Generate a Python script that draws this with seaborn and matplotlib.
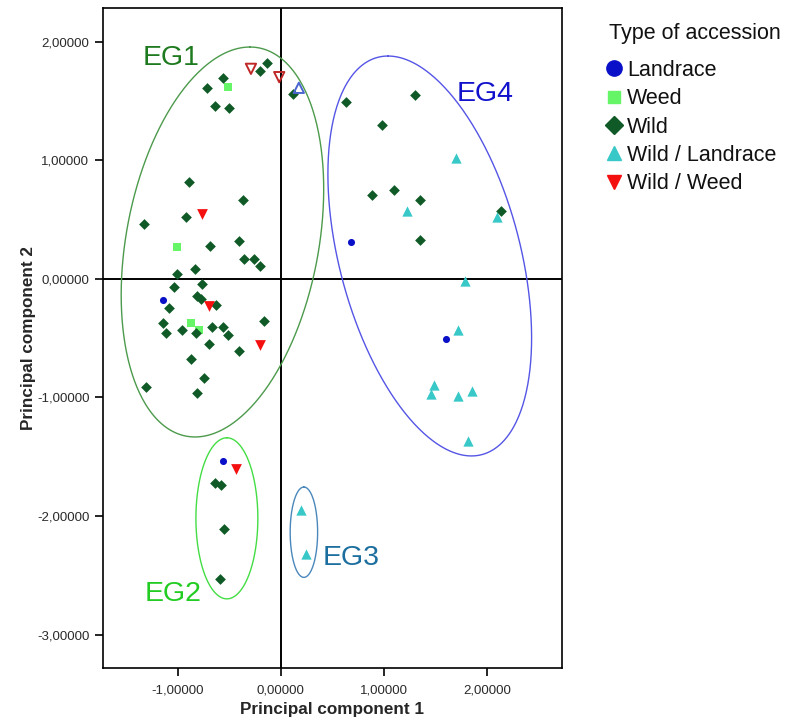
import numpy as np
import pandas as pd
import matplotlib
matplotlib.use("Agg")
import matplotlib.pyplot as plt
from matplotlib.lines import Line2D
from matplotlib.ticker import FuncFormatter, MultipleLocator
import seaborn as sns

# ---- PCA scores per accession type ----
landrace_x = [-1.139, 0.678, 1.600, -0.559]
landrace_y = [-0.18, 0.31, -0.51, -1.54]

weed_x = [-0.516, -1.007, -0.871, -0.794]
weed_y = [1.62, 0.27, -0.37, -0.43]

wild_x = [-0.559, -0.713, -0.639, -0.500, -0.203, -0.138, 0.113, -0.888,
          -0.365, -0.923, -1.329, -0.687, -0.407, -0.355, -0.258, -0.200,
          -0.833, -1.007, -1.033, -0.768, -0.810, -0.774, -0.629, -1.087,
          -1.142, -1.116, -0.958, -0.823, -0.668, -0.561, -0.513, -0.165,
          -0.697, -0.404, -0.871, -0.742, -1.310, -0.810,
          0.632, 1.297, 0.978, 0.878, 1.091, 1.346, 2.130, 1.346,
          -0.639, -0.581, -0.549, -0.590]
wild_y = [1.69, 1.61, 1.46, 1.44, 1.75, 1.82, 1.56, 0.82,
          0.66, 0.52, 0.46, 0.28, 0.32, 0.17, 0.17, 0.11,
          0.08, 0.04, -0.07, -0.04, -0.145, -0.17, -0.22, -0.25,
          -0.37, -0.46, -0.43, -0.46, -0.41, -0.41, -0.47, -0.36,
          -0.55, -0.61, -0.68, -0.84, -0.91, -0.96,
          1.49, 1.55, 1.30, 0.71, 0.75, 0.66, 0.57, 0.33,
          -1.72, -1.74, -2.11, -2.53]

wild_landrace_x = [1.694, 1.217, 2.098, 1.784, 1.713, 1.484, 1.452, 1.720,
                   1.852, 1.817, 0.194, 0.239]
wild_landrace_y = [1.02, 0.57, 0.52, -0.02, -0.43, -0.90, -0.97, -0.99,
                   -0.95, -1.37, -1.95, -2.32]

wild_weed_x = [-0.762, -0.697, -0.203, -0.439]
wild_weed_y = [0.55, -0.23, -0.56, -1.60]

# accessions drawn as open symbols
open_down_x = [-0.290, -0.016]
open_down_y = [1.77, 1.70]
open_up_x = [0.174]
open_up_y = [1.61]

types = ["Landrace", "Weed", "Wild", "Wild / Landrace", "Wild / Weed"]
frames = []
for t, xs, ys in zip(types,
                     [landrace_x, weed_x, wild_x, wild_landrace_x, wild_weed_x],
                     [landrace_y, weed_y, wild_y, wild_landrace_y, wild_weed_y]):
    frames.append(pd.DataFrame({"PC1": xs, "PC2": ys, "Type": t}))
df = pd.concat(frames, ignore_index=True)

colors = {"Landrace": "#0a10c8", "Weed": "#66f566", "Wild": "#0f5a26",
          "Wild / Landrace": "#38c8c8", "Wild / Weed": "#f51010"}
markers = {"Landrace": "o", "Weed": "s", "Wild": "D",
           "Wild / Landrace": "^", "Wild / Weed": "v"}
sizes = {"Landrace": 26, "Weed": 30, "Wild": 30,
         "Wild / Landrace": 55, "Wild / Weed": 60}
legend_msize = {"Landrace": 11, "Weed": 8.5, "Wild": 9,
                "Wild / Landrace": 10.5, "Wild / Weed": 10.5}

# ---- ellipse groups: centre and two conjugate semi-axis vectors ----
group_names = ["EG1", "EG2", "EG3", "EG4"]
group_center = [(-0.566, 0.31), (-0.523, -2.02), (0.223, -2.137), (1.442, 0.192)]
group_u = [(0.266, 1.644), (0.0, 0.679), (0.0, 0.381), (-0.404, 1.686)]
group_v = [(0.944, 0.0), (0.30, 0.0), (0.133, 0.0), (0.90, 0.0)]
group_line_color = ["#4c9a4c", "#44dd44", "#4a88bc", "#5555e6"]
group_label_pos = [(-1.065, 1.86), (-1.045, -2.66), (0.678, -2.355), (1.98, 1.557)]
group_label_color = ["#1e7a1e", "#22cc22", "#1c6e9e", "#1212cc"]

sns.set_theme(style="white")
plt.rcParams["font.family"] = ["Liberation Sans", "DejaVu Sans"]

fig = plt.figure(figsize=(7.96, 7.17), dpi=100)
ax = fig.add_axes([103.3 / 796, 49 / 717, 458.4 / 796, 660 / 717])

ax.axhline(0, color="black", lw=1.4, zorder=1)
ax.axvline(0, color="black", lw=1.4, zorder=1)

t = np.linspace(0, 2 * np.pi, 400)
for c, u, v, lc in zip(group_center, group_u, group_v, group_line_color):
    ex = c[0] + u[0] * np.cos(t) + v[0] * np.sin(t)
    ey = c[1] + u[1] * np.cos(t) + v[1] * np.sin(t)
    ax.plot(ex, ey, color=lc, lw=1.0, zorder=2)

for tname in types:
    sub = df[df["Type"] == tname]
    sns.scatterplot(data=sub, x="PC1", y="PC2", ax=ax, color=colors[tname],
                    marker=markers[tname], s=sizes[tname], linewidth=0,
                    legend=False, zorder=3)

ax.scatter(open_down_x, open_down_y, marker="v", s=55, facecolors="none",
           edgecolors="#c02828", linewidths=1.4, zorder=3)
ax.scatter(open_up_x, open_up_y, marker="^", s=55, facecolors="none",
           edgecolors="#4a64d0", linewidths=1.4, zorder=3)

for name, pos, col in zip(group_names, group_label_pos, group_label_color):
    ax.text(pos[0], pos[1], name, color=col, fontsize=20.5,
            ha="center", va="center", zorder=4)

ax.set_xlim(-1.72, 2.72)
ax.set_ylim(-3.282, 2.283)
ax.xaxis.set_major_locator(MultipleLocator(1.0))
ax.yaxis.set_major_locator(MultipleLocator(1.0))
fmt = FuncFormatter(lambda val, pos: f"{val:.5f}".replace(".", ","))
ax.xaxis.set_major_formatter(fmt)
ax.yaxis.set_major_formatter(fmt)
ax.tick_params(axis="both", direction="out", length=6, width=1.2,
               colors="black", labelcolor="#2a2a2a", labelsize=9.5,
               bottom=True, left=True)
ax.tick_params(axis="x", pad=6)
ax.tick_params(axis="y", pad=4)
for sp in ax.spines.values():
    sp.set_color("black")
    sp.set_linewidth(1.2)

ax.set_xlabel("Principal component 1", fontsize=12.3, fontweight="bold", labelpad=4)
ax.set_ylabel("Principal component 2", fontsize=12.3, fontweight="bold", labelpad=0.5)

fig.text(609 / 796, 1 - 33 / 717, "Type of accession", fontsize=15.5,
         color="#111111", ha="left", va="center")
handles = [Line2D([0], [0], linestyle="none", marker=markers[k],
                  markerfacecolor=colors[k], markeredgecolor=colors[k],
                  markersize=legend_msize[k], label=k)
           for k in types]
fig.legend(handles=handles, loc="upper left",
           bbox_to_anchor=(608 / 796, 1 - 60 / 717),
           frameon=False, fontsize=15.5, labelcolor="#111111",
           handlelength=0.6, handletextpad=0.3, labelspacing=0.34,
           borderaxespad=0, borderpad=0)

fig.savefig("out.png", dpi=100)
